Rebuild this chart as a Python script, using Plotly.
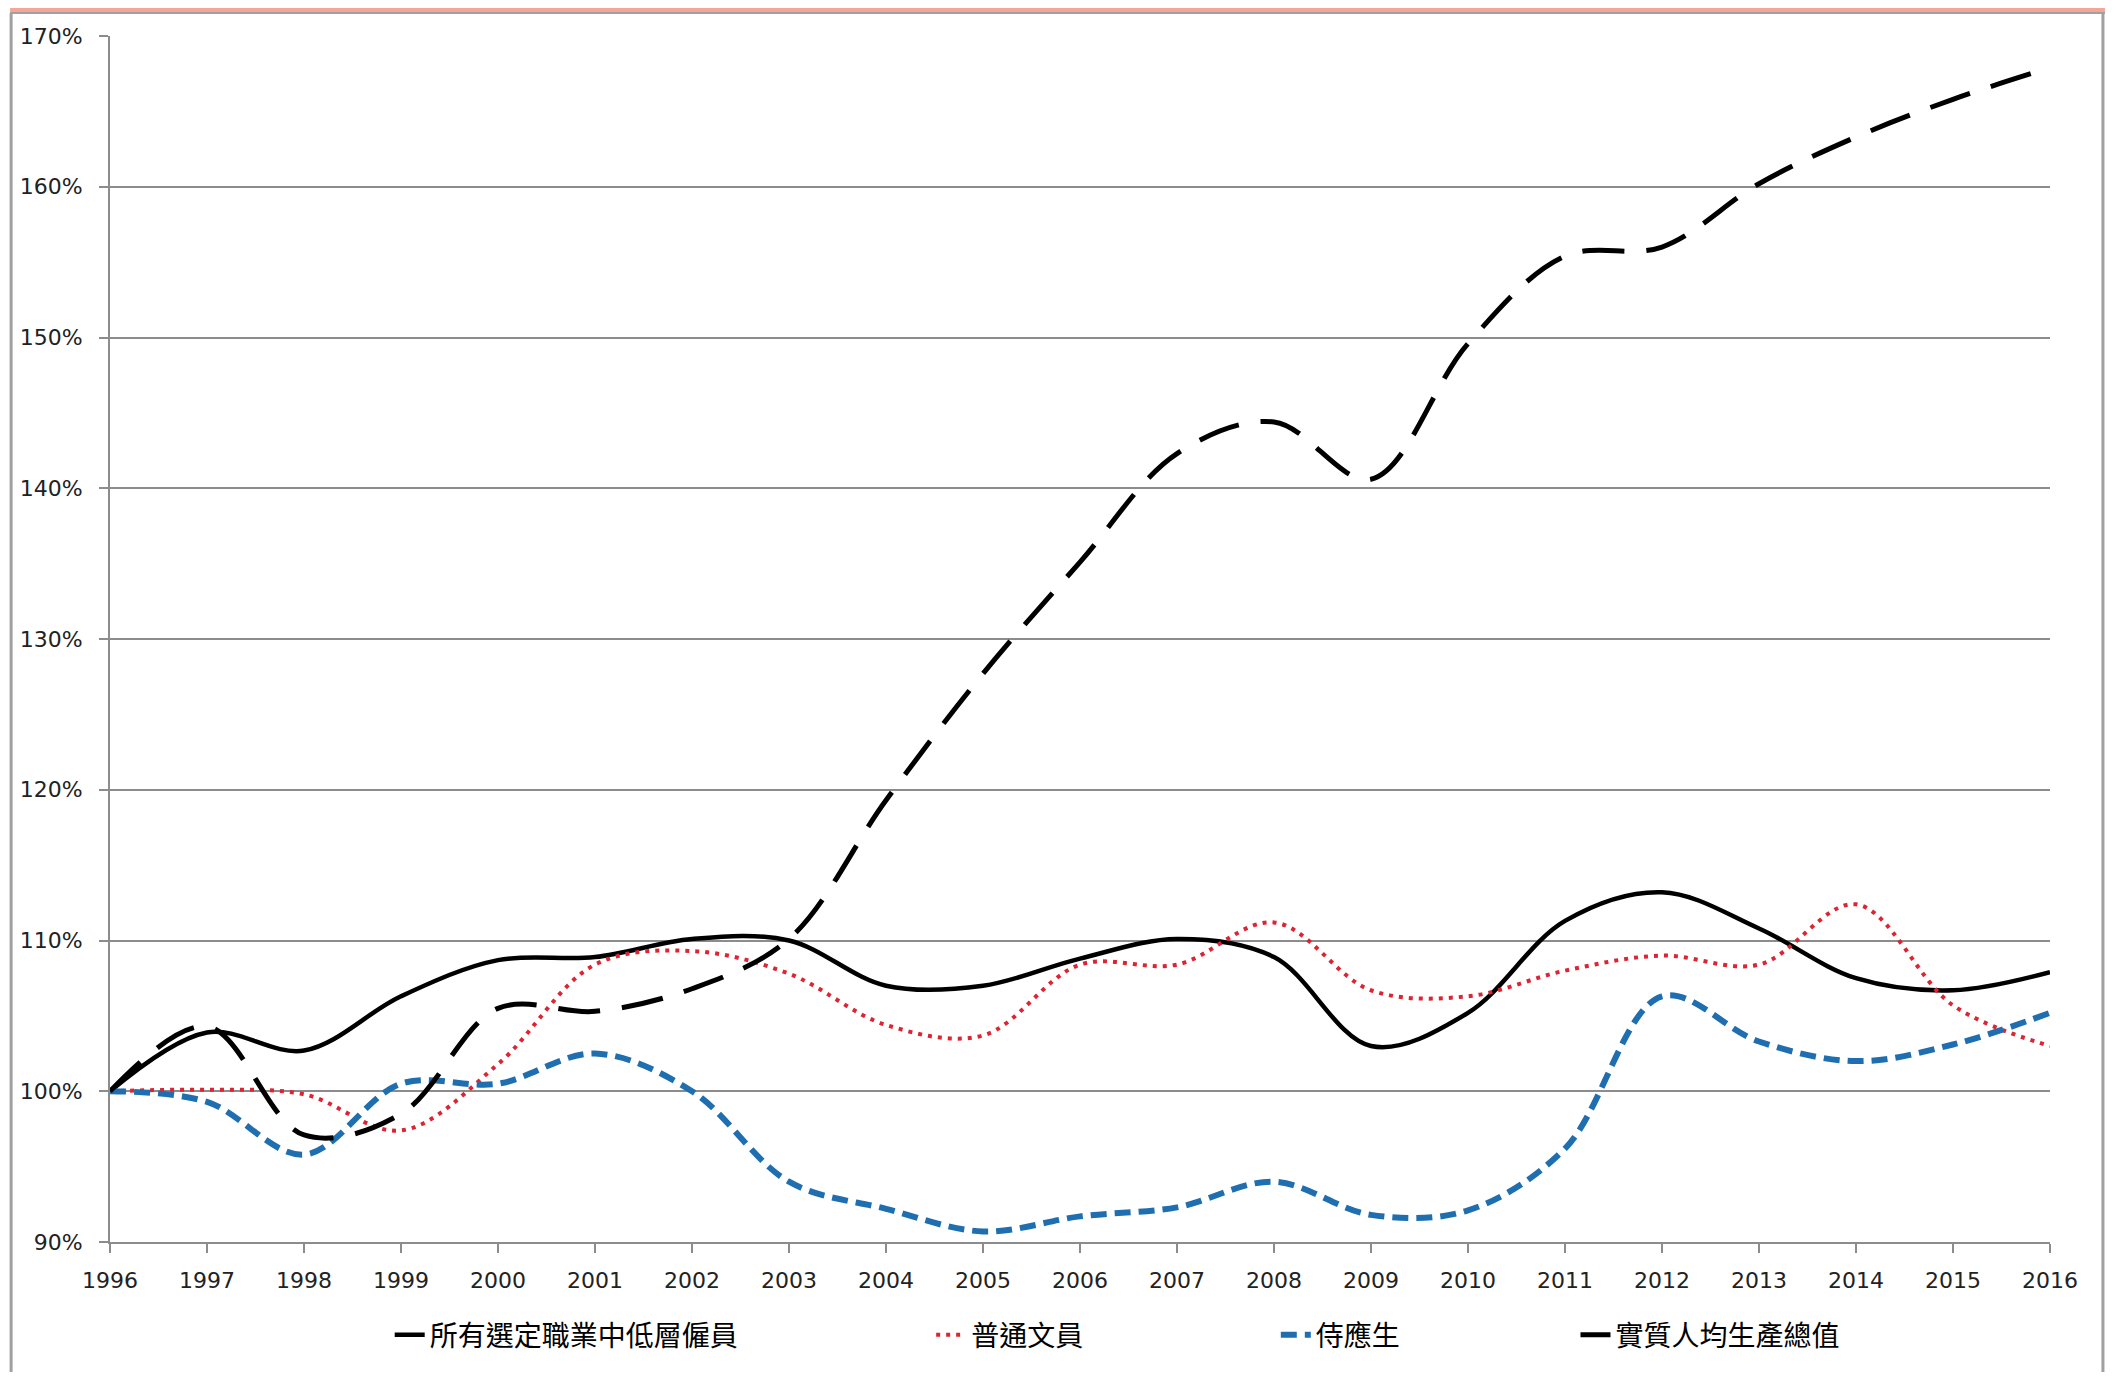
import plotly.graph_objects as go

years = list(range(1996, 2017))
all_low = [100, 103.9, 102.7, 106.3, 108.7, 108.9, 110.1, 110.0, 107.0, 107.0, 108.8,
           110.1, 108.9, 103.0, 105.2, 111.3, 113.2, 110.8, 107.5, 106.7, 107.9]
clerk = [100, 100.1, 99.8, 97.4, 101.8, 108.4, 109.3, 107.8, 104.4, 103.7, 108.4,
         108.4, 111.2, 106.7, 106.3, 108.0, 109.0, 108.4, 112.4, 105.7, 103.0]
waiter = [100, 99.3, 95.8, 100.5, 100.5, 102.5, 100.0, 94.0, 92.2, 90.7, 91.7,
          92.3, 94.0, 91.8, 92.1, 96.2, 106.3, 103.3, 102.0, 103.1, 105.2]
gdp = [100, 104.3, 97.1, 98.5, 105.5, 105.3, 106.8, 110.1, 119.3, 127.7, 135.1,
       142.3, 144.4, 140.6, 149.6, 155.4, 156.0, 160.2, 163.3, 165.8, 167.9]

names = ["所有選定職業中低層僱員", "普通文員", "侍應生", "實質人均生產總值"]

# page is offset by the 8px body margin; figure coordinates = page - 8
OFF = 8
W, H = 2113 - 2 * OFF, 1380 - 2 * OFF
L, R, T, B = 108 - OFF, 2050 - OFF, 36 - OFF, 1242 - OFF


def px(x):
    return (x - L) / (R - L)


def py(y):
    return (B - y) / (B - T)


fig = go.Figure()
fig.add_trace(go.Scatter(x=years, y=all_low, name=names[0], mode="lines",
                         line=dict(color="#000000", width=4.5, shape="spline"),
                         legend="legend"))
fig.add_trace(go.Scatter(x=years, y=clerk, name=names[1], mode="lines",
                         line=dict(color="#dc2433", width=4, shape="spline", dash="4px,6px"),
                         legend="legend2"))
fig.add_trace(go.Scatter(x=years, y=waiter, name=names[2], mode="lines",
                         line=dict(color="#1f6fb0", width=6, shape="spline", dash="16px,8px"),
                         legend="legend3"))
fig.add_trace(go.Scatter(x=years, y=gdp, name=names[3], mode="lines",
                         line=dict(color="#000000", width=5, shape="spline", dash="42px,22px"),
                         legend="legend4"))

legfont = dict(family="Noto Sans CJK TC", size=28, color="#000000")
leg_y = py(1335 - OFF)
common = dict(orientation="h", yanchor="middle", y=leg_y, xanchor="left",
              font=legfont, bgcolor="rgba(0,0,0,0)", visible=True)

frame_shapes = [
    dict(type="rect", xref="paper", yref="paper", x0=px(0), x1=px(W), y0=py(0), y1=py(4),
         fillcolor="#f4a595", line=dict(width=0), layer="below"),
    dict(type="line", xref="paper", yref="paper", x0=px(0), x1=px(W), y0=py(5), y1=py(5),
         line=dict(color="#a0a0a0", width=2)),
    dict(type="line", xref="paper", yref="paper", x0=px(1), x1=px(1), y0=py(5), y1=py(H),
         line=dict(color="#a0a0a0", width=3)),
    dict(type="line", xref="paper", yref="paper", x0=px(W - 2), x1=px(W - 2), y0=py(5), y1=py(H),
         line=dict(color="#a0a0a0", width=3)),
]

fig.update_layout(
    width=W, height=H,
    margin=dict(l=L, r=W - R, t=T, b=H - B),
    paper_bgcolor="white", plot_bgcolor="white",
    font=dict(family="DejaVu Sans", size=22, color="#222222"),
    showlegend=True,
    legend=dict(x=px(336 + 44), **common),
    legend2=dict(x=px(878 + 44), **common),
    legend3=dict(x=px(1219 + 48), **common),
    legend4=dict(x=px(1533 + 34), **common),
    shapes=frame_shapes,
)
fig.update_xaxes(range=[1996, 2016], tickvals=years, ticktext=[str(y) for y in years],
                 showgrid=False, showline=True, linecolor="#8c8c8c", linewidth=2,
                 ticks="outside", ticklen=9, tickcolor="#8c8c8c", tickwidth=2,
                 ticklabelstandoff=9, zeroline=False,
                 tickfont=dict(family="DejaVu Sans", size=22, color="#222222"))
fig.update_yaxes(range=[90, 170], dtick=10, ticksuffix="%",
                 showgrid=True, gridcolor="#8c8c8c", gridwidth=1.5,
                 showline=True, linecolor="#8c8c8c", linewidth=2,
                 ticks="outside", ticklen=9, tickcolor="#8c8c8c", tickwidth=2,
                 ticklabelstandoff=12, zeroline=False,
                 tickfont=dict(family="DejaVu Sans", size=22, color="#222222"))

fig.write_html("out.html")
